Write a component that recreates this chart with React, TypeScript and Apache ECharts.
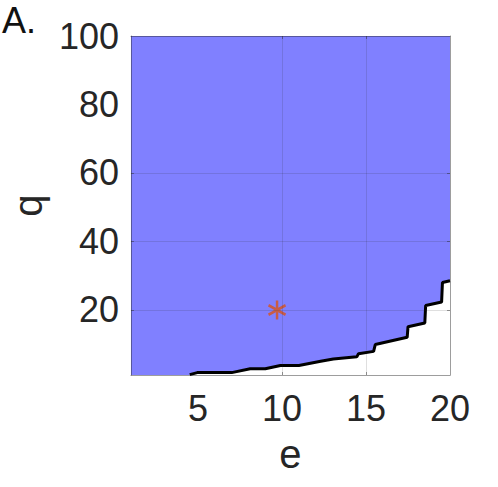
import React, { useEffect, useRef } from "react";
import * as echarts from "echarts";

// Boundary (contour) of the blue region
const boundaryE = [4.5, 4.95, 7.0, 8.1, 9.0, 9.9, 11.0, 12.3, 13.05, 14.45, 14.55, 15.45, 15.55, 17.45, 17.5, 18.5, 18.55, 19.5, 19.55, 20];
const boundaryQ = [1.1, 1.7, 1.7, 2.8, 2.8, 3.8, 3.8, 5.0, 5.7, 6.3, 7.2, 7.9, 9.9, 12.0, 15.1, 16.2, 21.3, 22.3, 28.0, 28.5];

// Marked point
const markerE = [9.7];
const markerQ = [20];

// Axes
const xRange = [1, 20];
const yRange = [1, 100];
const xTickLabels = [5, 10, 15, 20];
const yTickLabels = [20, 40, 60, 80, 100];
const xGridValues = [10, 15];
const yGridValues = [20, 40, 60];

const FONT = '"Liberation Sans", Arial, Helvetica, sans-serif';
const TXT = "#262626";
const AXLINE = "rgba(38,38,38,0.45)";

export default function App() {
  const ref = useRef<HTMLDivElement>(null);

  useEffect(() => {
    if (!ref.current) return;
    const chart = echarts.init(ref.current, null, { renderer: "svg" });

    const boundary = boundaryE.map((e, i) => [e, boundaryQ[i]]);
    const markers = markerE.map((e, i) => [e, markerQ[i]]);

    const baseX = {
      type: "value",
      min: xRange[0],
      max: xRange[1],
      z: 6,
      splitLine: { show: false },
      axisLine: { show: true, onZero: false, lineStyle: { color: AXLINE, width: 1 } },
      axisTick: { show: true, inside: true, length: 3, customValues: xGridValues, lineStyle: { color: AXLINE } },
    };
    const baseY = {
      type: "value",
      min: yRange[0],
      max: yRange[1],
      z: 6,
      splitLine: { show: false },
      axisLine: { show: true, onZero: false, lineStyle: { color: AXLINE, width: 1 } },
      axisTick: { show: true, inside: true, length: 3, customValues: yGridValues, lineStyle: { color: AXLINE } },
    };

    chart.setOption({
      animation: false,
      grid: {
        left: 130,
        right: 48,
        top: 36,
        bottom: 112,
        show: true,
        backgroundColor: "#8080ff",
        borderWidth: 0,
      },
      graphic: [
        {
          type: "text",
          left: 2,
          top: 2,
          style: { text: "A.", font: `36px ${FONT}`, fill: "#111111" },
        },
      ],
      xAxis: [
        {
          ...baseX,
          position: "bottom",
          name: "e",
          nameLocation: "middle",
          nameGap: 59,
          nameTextStyle: { fontSize: 40, color: TXT, fontFamily: FONT },
          axisLabel: {
            show: true,
            customValues: xTickLabels,
            fontSize: 36,
            color: TXT,
            fontFamily: FONT,
            margin: 15,
            formatter: (v: number) => (xTickLabels.includes(v) ? String(v) : ""),
          },
        },
        {
          ...baseX,
          position: "top",
          axisLabel: { show: false },
        },
      ],
      yAxis: [
        {
          ...baseY,
          position: "left",
          name: "q",
          nameLocation: "middle",
          nameGap: 77,
          nameTextStyle: { fontSize: 40, color: TXT, fontFamily: FONT },
          axisLabel: {
            show: true,
            customValues: yTickLabels,
            fontSize: 36,
            color: TXT,
            fontFamily: FONT,
            margin: 12,
            formatter: (v: number) => (yTickLabels.includes(v) ? String(v) : ""),
          },
        },
        {
          ...baseY,
          position: "right",
          axisLabel: { show: false },
        },
      ],
      series: [
        {
          name: "region",
          type: "line",
          data: boundary,
          z: 2,
          symbol: "none",
          lineStyle: { width: 0, opacity: 0 },
          areaStyle: { color: "#ffffff", opacity: 1, origin: "start" },
          silent: true,
        },
        {
          name: "marker",
          type: "scatter",
          data: markers,
          z: 3,
          symbol: "path://M10,0L10,20M1.34,5L18.66,15M1.34,15L18.66,5",
          symbolSize: [17, 19],
          itemStyle: { color: "none", borderColor: "#d95319", borderWidth: 2.6 },
          markLine: {
            silent: true,
            symbol: ["none", "none"],
            label: { show: false },
            lineStyle: { color: "rgba(38,38,38,0.15)", type: "solid", width: 1 },
            data: [
              ...xGridValues.map((v) => ({ xAxis: v })),
              ...yGridValues.map((v) => ({ yAxis: v })),
            ],
          },
        },
        {
          name: "boundary",
          type: "line",
          data: boundary,
          z: 4,
          symbol: "none",
          lineStyle: { color: "#000000", width: 3 },
          silent: true,
        },
      ],
    });

    return () => chart.dispose();
  }, []);

  return (
    <div
      ref={ref}
      style={{ position: "absolute", left: 0, top: 0, width: 498, height: 487 }}
    />
  );
}
